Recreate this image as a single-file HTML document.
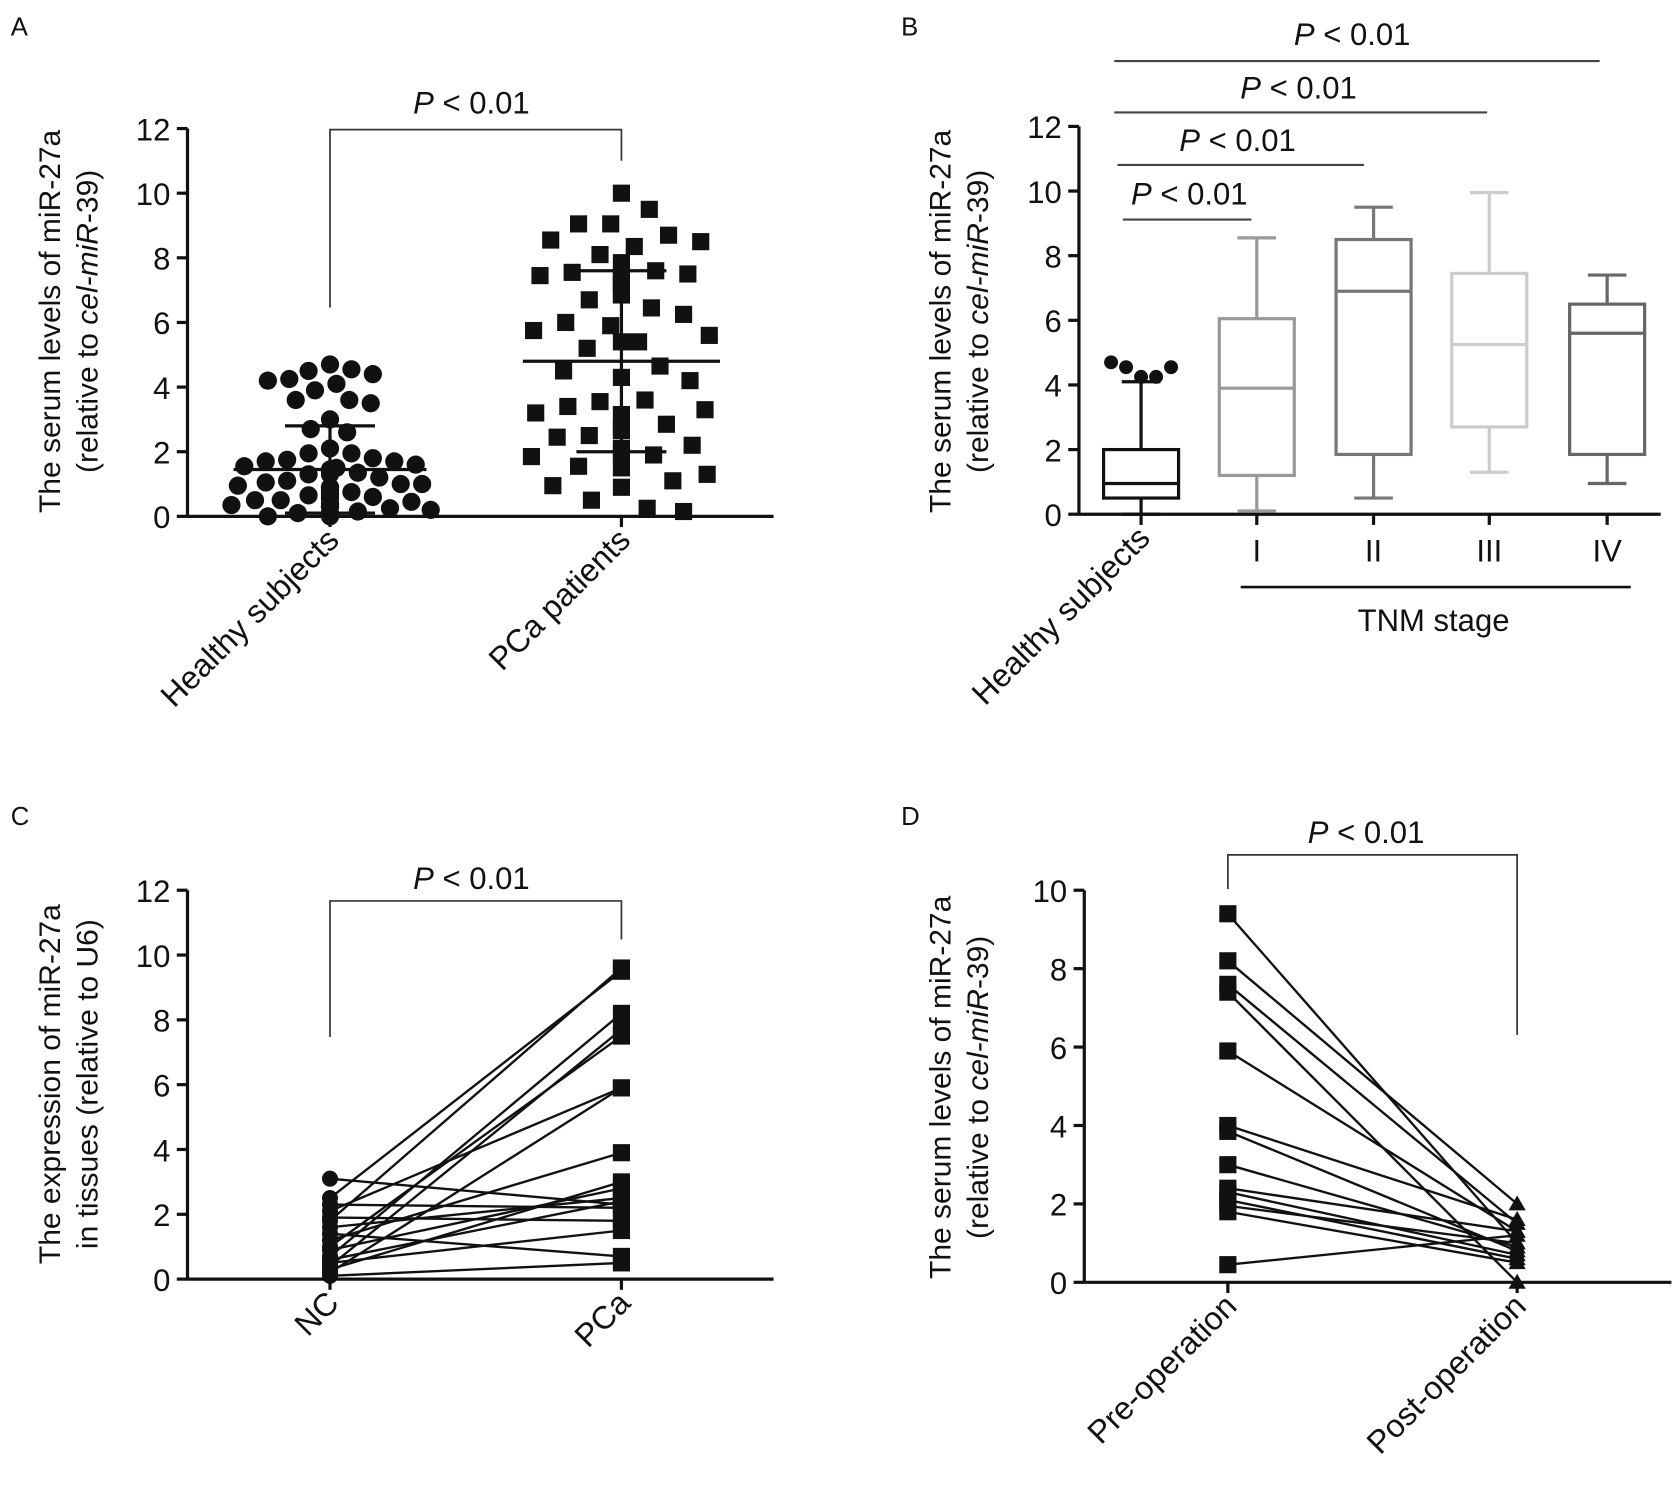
<!DOCTYPE html>
<html><head><meta charset="utf-8"><style>
html,body{margin:0;padding:0;background:#fff}
svg{display:block}
text{font-family:"Liberation Sans",Arial,sans-serif;fill:#111}
</style></head><body>
<svg id="fig" xmlns="http://www.w3.org/2000/svg" width="1680" height="1488" viewBox="0 0 1568 1389" preserveAspectRatio="none">
<text x="10" y="33" font-size="24">A</text>
<text x="841" y="33" font-size="24">B</text>
<text x="10" y="770" font-size="24">C</text>
<text x="841" y="770" font-size="24">D</text>
</svg>
<script>
// ---- Panel A data ----
const aCategories = ["Healthy subjects", "PCa patients"];
const aHealthy = [4.7,4.55,4.5,4.4,4.25,4.2,4.1,3.9,3.6,3.6,3.5,3.0,2.7,2.6,2.1,1.95,1.95,1.8,1.75,1.7,1.7,1.6,1.55,1.5,1.45,1.4,1.35,1.3,1.3,1.2,1.1,1.05,1.0,1.0,0.95,0.9,0.9,0.85,0.8,0.75,0.7,0.7,0.65,0.65,0.6,0.6,0.55,0.5,0.5,0.45,0.4,0.35,0.3,0.3,0.25,0.2,0.15,0.1,0.1,0.05,0.05,0.0,0.0];
const aPatients = [10.0,9.5,9.05,9.05,8.7,8.55,8.5,8.35,8.1,7.85,7.6,7.55,7.5,7.45,7.4,7.35,7.2,6.9,6.85,6.7,6.45,6.25,6.0,5.9,5.75,5.6,5.4,5.4,5.2,4.65,4.5,4.3,4.2,3.6,3.55,3.4,3.3,3.2,3.15,2.85,2.75,2.65,2.5,2.45,2.2,2.1,1.95,1.9,1.85,1.55,1.5,1.3,1.1,0.95,0.9,0.5,0.25,0.15];
const aMean = [1.45, 4.8];
const aSD = [1.35, 2.8];
const yTicksA = [0,2,4,6,8,10,12];
// ---- Panel B data ----
const bCategories = ["Healthy subjects","I","II","III","IV"];
const bMin = [0.0, 0.1, 0.5, 1.3, 0.95];
const bQ1 = [0.5, 1.2, 1.85, 2.7, 1.85];
const bMedian = [0.95, 3.9, 6.9, 5.25, 5.6];
const bQ3 = [2.0, 6.05, 8.5, 7.45, 6.5];
const bMax = [4.1, 8.55, 9.5, 9.95, 7.4];
const bOutliers = [4.7, 4.55, 4.25, 4.25, 4.55];
const bColors = ["#111","#999","#777","#ccc","#666"];
const yTicksB = [0,2,4,6,8,10,12];
// ---- Panel C data ----
const cCategories = ["NC","PCa"];
const cNC = [3.1,2.5,2.3,2.1,1.9,1.8,1.6,1.4,1.2,1.0,0.9,0.7,0.6,0.5,0.4,0.3,0.2,0.1];
const cPCa = [2.3,9.5,2.2,5.9,1.8,9.6,2.5,0.7,3.9,7.5,2.8,8.2,2.4,1.5,7.7,3.0,5.9,0.5];
const yTicksC = [0,2,4,6,8,10,12];
// ---- Panel D data ----
const dCategories = ["Pre-operation","Post-operation"];
const dPre = [9.4,8.2,7.6,7.4,5.9,4.0,3.85,3.0,2.4,2.3,2.1,1.95,1.8,0.45];
const dPost = [1.0,2.0,1.5,0.0,1.3,1.6,0.8,0.9,1.3,0.7,0.6,1.0,0.5,1.2];
const yTicksD = [0,2,4,6,8,10];

const NS="http://www.w3.org/2000/svg";
const svg=document.getElementById('fig');
function el(tag,attrs,parent){const e=document.createElementNS(NS,tag);for(const k in attrs)e.setAttribute(k,attrs[k]);(parent||svg).appendChild(e);return e;}
function line(x1,y1,x2,y2,stroke,w,p){return el('line',{x1,y1,x2,y2,stroke:stroke||'#111','stroke-width':w||3},p);}
function txt(x,y,s,size,anchor,p){const t=el('text',{x,y,'font-size':size,'text-anchor':anchor||'middle'},p);t.textContent=s;return t;}
function pText(x,y,p){const t=el('text',{x,y,'font-size':29,'text-anchor':'middle'},p);const a=el('tspan',{'font-style':'italic'},t);a.textContent='P';const b=el('tspan',{},t);b.textContent=' < 0.01';return t;}

function makeAxes(name,x0,y0,ytop,ymax,xend,ticks,cats,catX,title1,title2it,title2b,titleX,titleY){
  const g=el('g',{});
  
  
  const y=v=>y0-(v/ymax)*(y0-ytop);
  line(x0,y0,x0,ytop,'#111',3,g);
  line(x0,y0,xend,y0,'#111',3,g);
  ticks.forEach(t=>{line(x0-10,y(t),x0,y(t),'#111',3,g);const l=txt(x0-16,y(t)+11,String(t),29,'end',g);});
  cats.forEach((c,i)=>{const cx=catX[i];line(cx,y0,cx,y0+10,'#111',3,g);});
  const tg=el('g',{transform:`translate(${titleX},${titleY}) rotate(-90)`},g);
  
  
  txt(0,0,title1,28,'middle',tg);
  const t2=el('text',{x:0,y:35,'font-size':28,'text-anchor':'middle'},tg);
  if(title2it){const a=el('tspan',{},t2);a.textContent=title2it[0];const b=el('tspan',{'font-style':'italic'},t2);b.textContent=title2it[1];const c=el('tspan',{},t2);c.textContent=title2it[2];}
  else t2.textContent=title2b;
  return y;
}
function catLabels(cats,catX,y0,rot){
  cats.forEach((c,i)=>{const t=el('text',{transform:`translate(${catX[i]+10},${y0+24}) rotate(${rot})`,'font-size':30,'text-anchor':'end'});t.textContent=c;
  
  });
}
function bracket(x1,x2,yTop,yL,yR,px,py){
  const g=el('g',{});
  
  
  el('path',{d:`M${x1},${yL} V${yTop} H${x2} V${yR}`,fill:'none',stroke:'#333','stroke-width':1.6},g);
  pText(px,py,g);
}

// ===== Panel A =====
(function(){
  const catX=[308,580];
  const y=makeAxes('panel-a',175,482,120,12,722,yTicksA,aCategories,catX,'The serum levels of miR-27a',['(relative to ','cel-miR','-39)'],null,56,300);
  catLabels(aCategories,catX,482,-45);
  bracket(308,580,121,287,150,440,106);
  function swarm(vals,cx,shape,name,d,maxOff){
    const placed=[];
    const sorted=vals.slice().sort((a,b)=>b-a);
    sorted.forEach((v,idx)=>{const py=y(v);let best=null;
      const sgn=idx%2?1:-1;
      for(let k=0;k<=maxOff;k+=2){const offs=k===0?[0]:[sgn*k,-sgn*k];
        for(const o of offs){if(placed.every(p=>Math.hypot(p[0]-(cx+o),p[1]-py)>=d)){best=o;break;}}
        if(best!==null)break;}
      if(best===null)best=0;
      placed.push([cx+best,py]);
      let m;
      if(shape==='c')m=el('circle',{cx:cx+best,cy:py,r:8.5,fill:'#111'});
      else m=el('rect',{x:cx+best-8,y:py-8,width:16,height:16,fill:'#111'});
      
      
    });
  }
  swarm(aHealthy,catX[0],'c','healthy-point',19,95);
  swarm(aPatients,catX[1],'s','patient-point',30,85);
  const hw=[90,92],cw=[42,42];
  aMean.forEach((m,i)=>{const cx=catX[i];
    const g=el('g',{});
    
    
    line(cx-hw[i],y(m),cx+hw[i],y(m),'#111',3,g);
    line(cx,y(Math.max(0,m-aSD[i])),cx,y(m+aSD[i]),'#111',3,g);
    line(cx-cw[i],y(m+aSD[i]),cx+cw[i],y(m+aSD[i]),'#111',3,g);
    if(m-aSD[i]>0.05)line(cx-cw[i],y(m-aSD[i]),cx+cw[i],y(m-aSD[i]),'#111',3,g);
  });
})();

// ===== Panel B =====
(function(){
  const catX=[1065,1173,1282,1390,1500];
  const y=makeAxes('panel-b',1007,480,118,12,1550,yTicksB,bCategories,catX,'The serum levels of miR-27a',['(relative to ','cel-miR','-39)'],null,887,300);
  const hl=el('text',{transform:`translate(${catX[0]+10},${504}) rotate(-45)`,'font-size':30,'text-anchor':'end'});hl.textContent=bCategories[0];
  
  
  for(let i=1;i<bCategories.length;i++){const t=txt(catX[i],524,bCategories[i],29,'middle');
    
    }
  const tl=line(1158,548,1522,548,'#111',2.5);
  
  
  const tt=txt(1338,589,'TNM stage',29,'middle');
  
  
  const bw=35;
  catX.forEach((cx,i)=>{const c=bColors[i];
    const g=el('g',{});
    
    
    el('rect',{x:cx-bw,y:y(bQ3[i]),width:2*bw,height:y(bQ1[i])-y(bQ3[i]),fill:'none',stroke:c,'stroke-width':3},g);
    line(cx-bw,y(bMedian[i]),cx+bw,y(bMedian[i]),c,3,g);
    line(cx,y(bQ3[i]),cx,y(bMax[i]),c,3,g);
    line(cx,y(bQ1[i]),cx,y(bMin[i]),c,3,g);
    line(cx-18,y(bMax[i]),cx+18,y(bMax[i]),c,3,g);
    line(cx-18,y(bMin[i]),cx+18,y(bMin[i]),c,3,g);
  });
  bOutliers.forEach((v,k)=>{const o=el('circle',{cx:1037+k*14,cy:y(v),r:6.5,fill:'#111'});
    
    });
  const sig=[[1040,1493,57,1262,42],[1040,1388,105,1212,92],[1043,1273,154,1155,141],[1048,1168,205,1110,191]];
  sig.forEach(s=>{const g=el('g',{});
    
    
    line(s[0],s[2],s[1],s[2],'#444',2,g);pText(s[3],s[4],g);});
})();

// ===== Panel C =====
(function(){
  const catX=[308,580];
  const y=makeAxes('panel-c',175,1194,831,12,722,yTicksC,cCategories,catX,'The expression of miR-27a',null,'in tissues (relative to U6)',56,1012);
  catLabels(cCategories,catX,1194,-45);
  bracket(308,580,841,968,877,440,830);
  cNC.forEach((v,i)=>{const l=line(catX[0],y(v),catX[1],y(cPCa[i]),'#111',2.2);
    
    });
  cNC.forEach(v=>{const m=el('circle',{cx:catX[0],cy:y(v),r:7.5,fill:'#111'});
    
    });
  cPCa.forEach(v=>{const m=el('rect',{x:catX[1]-8,y:y(v)-8,width:16,height:16,fill:'#111'});
    
    });
})();

// ===== Panel D =====
(function(){
  const catX=[1146,1416];
  const y=makeAxes('panel-d',1012,1197,831,10,1560,yTicksD,dCategories,catX,'The serum levels of miR-27a',['(relative to ','cel-miR','-39)'],null,887,1015);
  catLabels(dCategories,catX,1197,-45);
  bracket(1146,1416,798,830,966,1275,787);
  dPre.forEach((v,i)=>{const l=line(catX[0],y(v),catX[1],y(dPost[i]),'#111',2.2);
    
    });
  dPre.forEach(v=>{const m=el('rect',{x:catX[0]-8,y:y(v)-8,width:16,height:16,fill:'#111'});
    
    });
  dPost.forEach(v=>{const cy=y(v);const m=el('path',{d:`M${catX[1]},${cy-8} L${catX[1]+8},${cy+6} L${catX[1]-8},${cy+6} Z`,fill:'#111'});
    
    });
})();
</script>
</body></html>
